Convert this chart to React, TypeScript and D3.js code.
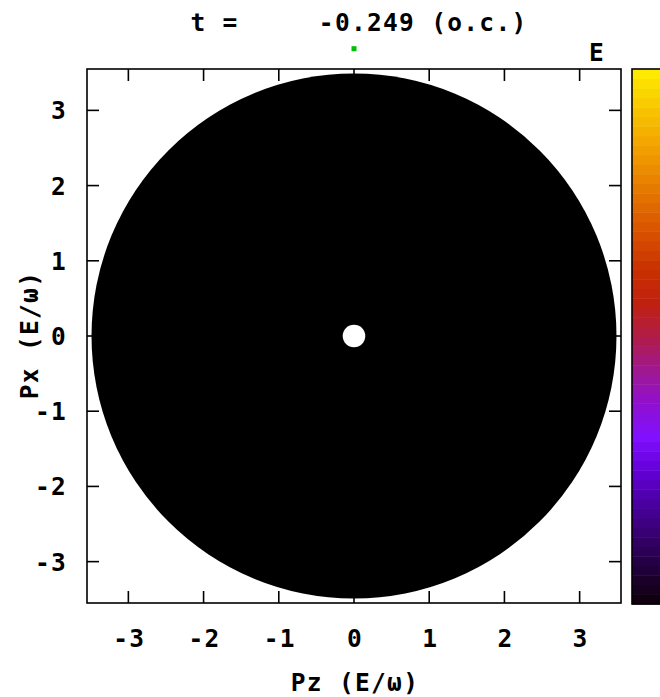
import React from "react";
import * as d3 from "d3";

const titleText = "t =     -0.249 (o.c.)";
const xLabel = "Pz (E/ω)";
const yLabel = "Px (E/ω)";
const cbLabel = "E";
const xTicks = [-3, -2, -1, 0, 1, 2, 3];
const yTicks = [-3, -2, -1, 0, 1, 2, 3];
const domainX: [number, number] = [-3.55, 3.55];
const domainY: [number, number] = [-3.55, 3.55];
const diskRadius = 3.49;
const holeRadius = 0.15;
const markerPoint = { x: 0, y: 3.82 };
const colorStops = [
  "#0d0008", "#200038", "#35006a", "#4a00a0", "#6400d8", "#8010ff",
  "#9010d0", "#a01890", "#b01c48", "#c02010", "#c83000", "#d84e00",
  "#e06c00", "#ec8c00", "#f4ac00", "#f8cc00", "#ffee00",
];

const W = 660, H = 697;
const plot = { left: 87, right: 621, top: 69, bottom: 603 };
const cb = { left: 632, right: 672, top: 69, bottom: 604 };
const FONT = "'DejaVu Sans Mono', monospace";

export default function App() {
  const x = d3.scaleLinear().domain(domainX).range([plot.left, plot.right]);
  const y = d3.scaleLinear().domain(domainY).range([plot.bottom, plot.top]);
  const rx = x(diskRadius) - x(0);
  const ry = y(0) - y(diskRadius);
  const hx = x(holeRadius) - x(0);
  const hy = y(0) - y(holeRadius);
  const colorScale = d3
    .scaleLinear<string>()
    .domain(colorStops.map((_, i) => i / (colorStops.length - 1)))
    .range(colorStops)
    .interpolate(d3.interpolateRgb);
  const nBands = 56;
  const cbY = d3.scaleLinear().domain([0, 1]).range([cb.bottom, cb.top]);
  const bands = d3.range(nBands).map((i) => ({
    v0: i / nBands,
    v1: (i + 1) / nBands,
    c: colorScale((i + 0.5) / nBands),
  }));
  const tickLen = 12;
  const textStyle = {
    fontFamily: FONT,
    fontWeight: "bold" as const,
    fontSize: 24.5,
    letterSpacing: 1.3,
  };
  const fmt = (t: number) => (t < 0 ? "-" + Math.abs(t) : String(t));
  return (
    <svg
      width={W}
      height={H}
      style={{ position: "absolute", left: 0, top: 0, background: "#fff" }}
    >
      <rect x={0} y={0} width={W} height={H} fill="#fff" />
      <ellipse cx={x(0)} cy={y(0)} rx={rx} ry={ry} fill="#000" />
      <ellipse cx={x(0)} cy={y(0)} rx={hx} ry={hy} fill="#fff" />
      <rect
        x={x(markerPoint.x) - 2.5}
        y={y(markerPoint.y) - 2.5}
        width={5}
        height={5}
        fill="#00c000"
      />
      <rect
        x={plot.left}
        y={plot.top}
        width={plot.right - plot.left}
        height={plot.bottom - plot.top}
        fill="none"
        stroke="#000"
        strokeWidth={1.6}
      />
      {xTicks.map((t) => (
        <g key={"x" + t}>
          <line x1={x(t)} x2={x(t)} y1={plot.bottom} y2={plot.bottom - tickLen} stroke="#000" strokeWidth={1.6} />
          <line x1={x(t)} x2={x(t)} y1={plot.top} y2={plot.top + tickLen} stroke="#000" strokeWidth={1.6} />
          <text x={x(t) + 1} y={647} textAnchor="middle" {...textStyle}>
            {fmt(t)}
          </text>
        </g>
      ))}
      {yTicks.map((t) => (
        <g key={"y" + t}>
          <line x1={plot.left} x2={plot.left + tickLen} y1={y(t)} y2={y(t)} stroke="#000" strokeWidth={1.6} />
          <line x1={plot.right} x2={plot.right - tickLen} y1={y(t)} y2={y(t)} stroke="#000" strokeWidth={1.6} />
          <text x={67} y={y(t) + 9} textAnchor="end" {...textStyle}>
            {fmt(t)}
          </text>
        </g>
      ))}
      {bands.map((b, i) => (
        <rect
          key={i}
          x={cb.left}
          y={cbY(b.v1)}
          width={cb.right - cb.left}
          height={cbY(b.v0) - cbY(b.v1) + 0.5}
          fill={b.c}
        />
      ))}
      <rect
        x={cb.left}
        y={cb.top}
        width={cb.right - cb.left}
        height={cb.bottom - cb.top}
        fill="none"
        stroke="#000"
        strokeWidth={1.6}
      />
      <text x={597} y={61} textAnchor="middle" {...textStyle}>
        {cbLabel}
      </text>
      <text x={359} y={31} textAnchor="middle" style={{ whiteSpace: "pre" }} {...textStyle}>
        {titleText}
      </text>
      <text x={355} y={691} textAnchor="middle" {...textStyle}>
        {xLabel}
      </text>
      <text
        transform={`translate(38, 335) rotate(-90)`}
        textAnchor="middle"
        {...textStyle}
      >
        {yLabel}
      </text>
    </svg>
  );
}
